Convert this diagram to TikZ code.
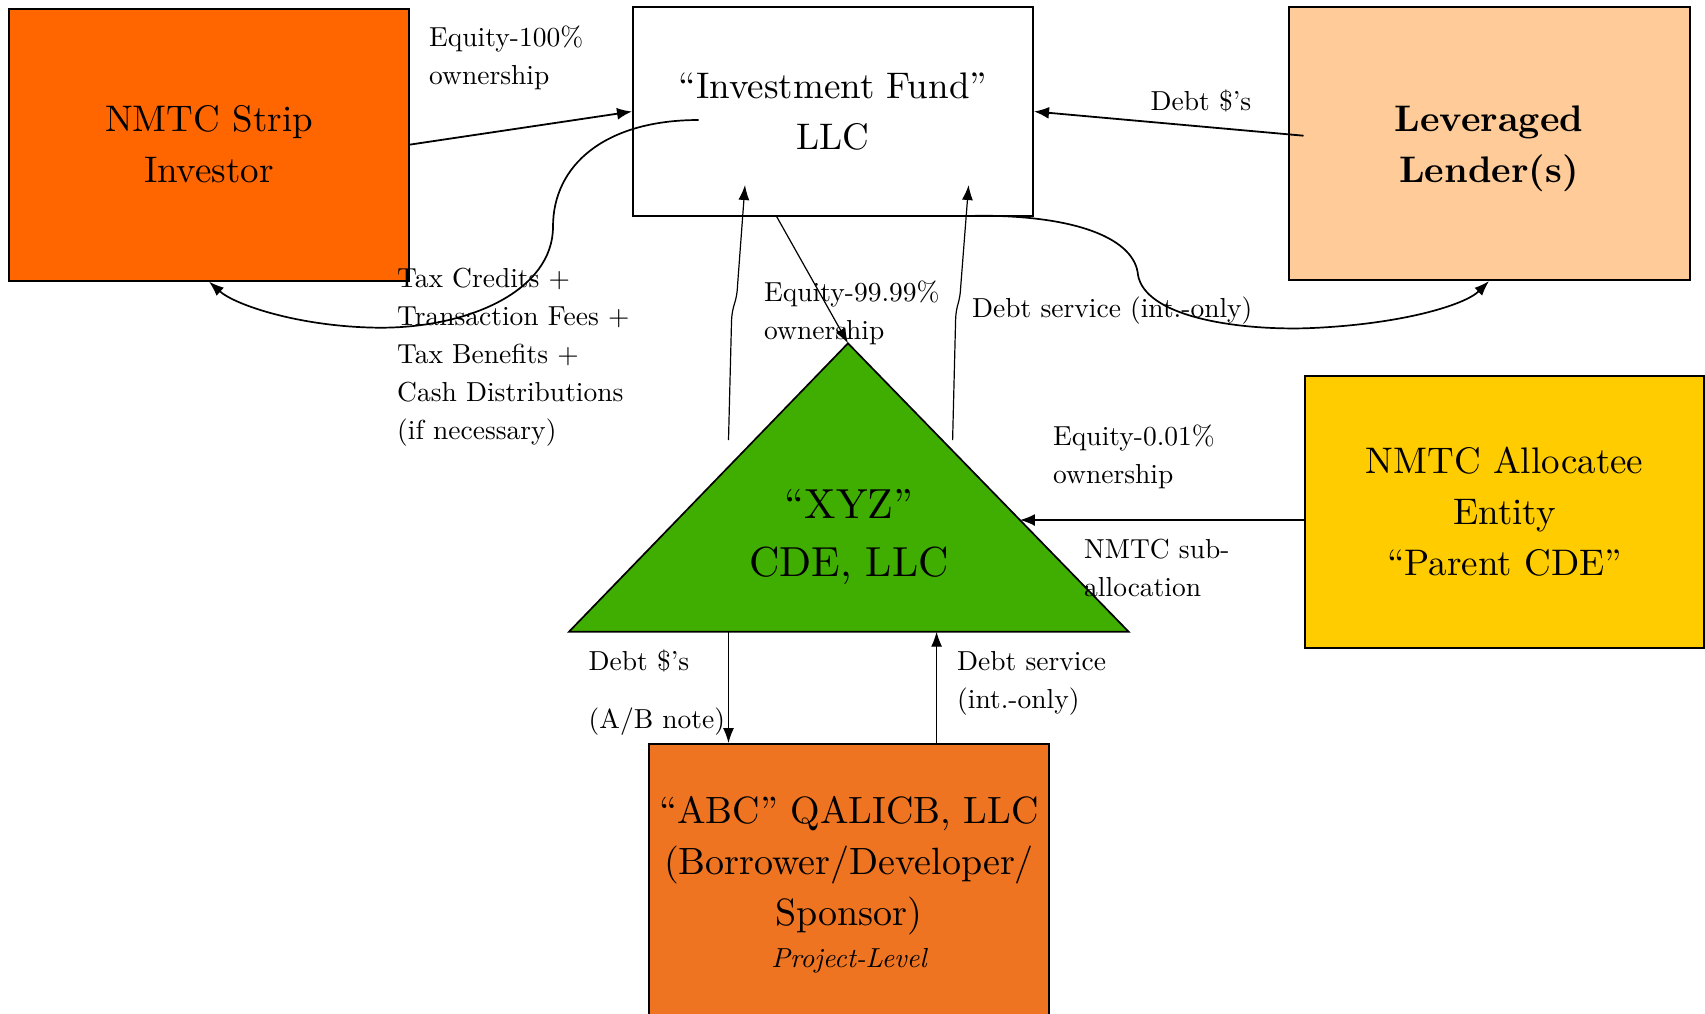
\documentclass[tikz,border=0pt]{standalone}
\usepackage{fontspec}
\setmainfont{lmroman10-regular.otf}[BoldFont=lmroman10-bold.otf, ItalicFont=lmroman10-italic.otf, BoldItalicFont=lmroman10-bolditalic.otf, Ligatures=TeX]
\usetikzlibrary{arrows.meta,calc}
\definecolor{stripc}{HTML}{FF6600}
\definecolor{lendc}{HTML}{FFCC99}
\definecolor{allocc}{HTML}{FFCC00}
\definecolor{tric}{HTML}{3FAE00}
\definecolor{abcc}{HTML}{EE7421}
\newcommand\dgBoxFont{\fontsize{37}{51}\selectfont}
\newcommand\dgTriFont{\fontsize{42}{58}\selectfont}
\newcommand\dgAbcFont{\fontsize{38}{51}\selectfont}
\newcommand\dgLabFont{\fontsize{27.5}{38}\selectfont}
\begin{document}
\begin{tikzpicture}[x=1pt,y=-1pt,
  box/.style={draw=black, line width=2pt, inner sep=0pt, align=center, font=\dgBoxFont},
  arr/.style={-{Latex[length=15pt,width=12pt]}, line width=1.8pt},
  thinarr/.style={-{Latex[length=15pt,width=11pt]}, line width=1.2pt},
  curv/.style={-{Latex[length=15pt,width=11pt]}, line width=1.7pt},
  lbl/.style={anchor=north west, inner sep=0pt, align=left, font=\dgLabFont},
]
\useasboundingbox (0,0) rectangle (1705,1013);
\clip (0,0) rectangle (1705,1013);

% boxes
\node[box, fill=stripc, minimum width=400pt, minimum height=272pt] (strip) at (209,144.6) {NMTC Strip\\Investor};
\node[box, fill=white, minimum width=400pt, minimum height=208.4pt] (fund) at (833,111.5) {``Investment Fund''\\LLC};
\node[box, fill=lendc, minimum width=401pt, minimum height=272.7pt, font=\dgBoxFont\bfseries] (lender) at (1489,143.7) {\rule{0pt}{36.3pt}Leveraged\\Lender(s)};
\node[box, fill=allocc, minimum width=399pt, minimum height=272pt] (alloc) at (1504.5,512) {NMTC Allocatee\\Entity\\``Parent CDE''};
\node[box, fill=abcc, minimum width=400pt, minimum height=281.1pt, font=\dgAbcFont] (abc) at (849,884.55) {``ABC'' QALICB, LLC\\(Borrower/Developer/\\Sponsor)\\[-9.6pt]{\dgLabFont\itshape Project-Level}};

% triangle
\coordinate (apex) at (848,343.3);
\coordinate (bL) at (569,631.7);
\coordinate (bR) at (1128.6,631.7);
\draw[fill=tric, line width=1.7pt, line join=miter] (apex) -- (bR) -- (bL) -- cycle;
\node[font=\dgTriFont, align=center, inner sep=0pt] (xyz) at (849,537) {``XYZ''\\CDE, LLC};

% straight arrows
\draw[arr] (strip.east) -- (fund.west);
\draw[arr] ($(lender.west)+(16,-8)$) -- (fund.east);
\coordinate (allocEnd) at ($(apex)!0.6127!(bR)$);
\draw[arr] ($(alloc.west)+(0,8)$) -- (allocEnd);

% equity 99.99
\coordinate (eqStart) at ($(fund.south west)!0.36!(fund.south east)$);
\draw[thinarr] (eqStart) -- (apex);

% vertical S-lines from CDE to fund
\coordinate (vL0) at (728.5,440);
\coordinate (vL1) at (745,185);
\coordinate (vR0) at (952.6,440);
\coordinate (vR1) at (968.6,185);
\draw[thinarr] (vL0) -- ++(3,-118) .. controls +(0.5,-18) and +(-0.8,18) .. ++(6,-36) -- (vL1);
\draw[thinarr] (vR0) -- ++(3,-120) .. controls +(0.5,-16) and +(-0.8,16) .. ++(5,-32) -- (vR1);

% bottom arrows
\coordinate (dsTop) at (728.5,631.7);
\coordinate (svTop) at (936.6,631.7);
\draw[thinarr] (dsTop) -- (dsTop |- abc.north);
\draw[thinarr] (svTop |- abc.north) -- (svTop);

% curved arrows
\coordinate (sc0) at (698.6,120);
\draw[curv] (sc0) .. controls (605,120) and (553,165) .. (553,226.7)
  .. controls (553,290) and (470,328) .. (379.4,327.7)
  .. controls (300,327) and (235,305) .. (strip.south);
\coordinate (lc0) at (975,215.7);
\draw[curv] (lc0) .. controls (1080,215) and (1135,240) .. (1138,275)
  .. controls (1145,315) and (1230,330) .. (1304.7,328.3)
  .. controls (1400,325) and (1465,305) .. (lender.south);

% labels
\node[lbl] (l1) at (429,26.1) {Equity-100\%\\ownership};
\node[lbl] (l2) at (397,267.6) {Tax Credits +\\Transaction Fees +\\Tax Benefits +\\Cash Distributions\\(if necessary)};
\node[lbl] (l3) at (1150.5,89.4) {Debt \$'s};
\node[lbl] (l4) at (764,281.1) {Equity-99.99\%\\ownership};
\node[lbl] (l5) at (972,296.7) {Debt service (int.-only)};
\node[lbl] (l6) at (1053,424.4) {Equity-0.01\%\\ownership};
\node[lbl] (l7) at (1084,539.2) {NMTC sub-\\allocation};
\node[lbl] (l8) at (588.5,649.4) {Debt \$'s\\[20.3pt](A/B note)};
\node[lbl] (l9) at (957,650.9) {Debt service\\(int.-only)};
\end{tikzpicture}
\end{document}
